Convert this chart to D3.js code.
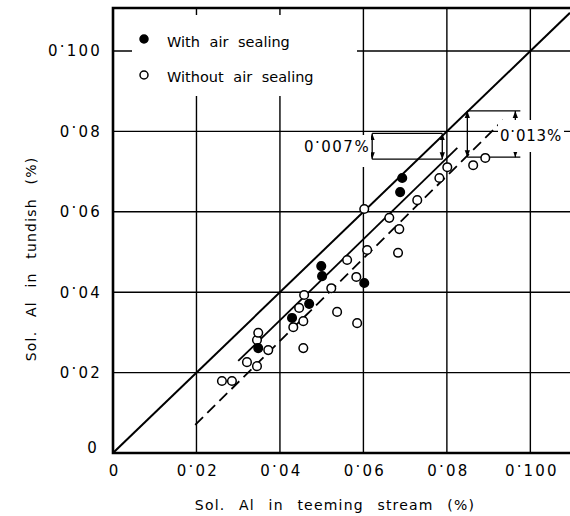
<!DOCTYPE html>
<meta charset="utf-8">
<style>
body { margin: 0; background: #fff; }
svg text { font-family: "DejaVu Sans", sans-serif; fill: #000; }
.tick text { font-size: 15px; letter-spacing: 2.2px; }
.grid line { stroke: #000; stroke-width: 1.4; }
</style>
<script src="https://d3js.org/d3.v7.min.js"></script>
<body>
<div id="chart"></div>
<script>
    // tick values and labels (same on both axes)
    var tickValues = [0, 0.02, 0.04, 0.06, 0.08, 0.1];
    var tickLabels = ["0", "0·02", "0·04", "0·06", "0·08", "0·100"];

    // [sol. Al in teeming stream, sol. Al in tundish]  (%)
    var withAirSealing = [
        [0.0348, 0.0261], [0.0429, 0.0336], [0.0470, 0.0371], [0.0499, 0.0465],
        [0.0501, 0.0440], [0.0602, 0.0423], [0.0688, 0.0649], [0.0693, 0.0684]
    ];
    var withoutAirSealing = [
        [0.0261, 0.0179], [0.0285, 0.0179], [0.0321, 0.0226], [0.0345, 0.0216],
        [0.0345, 0.0281], [0.0348, 0.0299], [0.0372, 0.0256], [0.0432, 0.0313],
        [0.0446, 0.0361], [0.0456, 0.0328], [0.0456, 0.0261], [0.0458, 0.0393],
        [0.0523, 0.0410], [0.0537, 0.0351], [0.0561, 0.0480], [0.0583, 0.0438],
        [0.0585, 0.0323], [0.0602, 0.0607], [0.0609, 0.0505], [0.0662, 0.0585],
        [0.0683, 0.0498], [0.0686, 0.0557], [0.0729, 0.0629], [0.0782, 0.0684],
        [0.0801, 0.0711], [0.0863, 0.0716], [0.0892, 0.0734]
    ];

    // lines
    var equalLine = [[0, 0], [0.1095, 0.1095]];
    var fitWith = [[0.0300, 0.0229], [0.0825, 0.0759]];
    var fitWithout = [[0.0197, 0.0070], [0.0935, 0.0828]];

    // difference brackets: x of the two verticals, top / bottom level, right end of horizontals
    var bracketLabels = ["0·007%", "0·013%"];
    var bracketXs = [[0.0621, 0.0789], [0.0849, 0.0964]];
    var bracketTops = [0.0795, 0.0851];
    var bracketBottoms = [0.0731, 0.0736];
    var bracketEnds = [0.0789, 0.0976];

    var W = 570, H = 516;
    var mLeft = 113, mRight = 570, mTop = 8, mBottom = 453;

    var svg = d3.select("#chart").append("svg")
        .attr("width", W).attr("height", H);

    var x = d3.scaleLinear().domain([0, 0.1095]).range([mLeft, mRight]);
    var y = d3.scaleLinear().domain([0, 0.1107]).range([mBottom, mTop]);

    // arrow head
    svg.append("defs").append("marker")
        .attr("id", "arr")
        .attr("viewBox", "0 -4 8 8")
        .attr("refX", 8).attr("refY", 0)
        .attr("markerWidth", 7).attr("markerHeight", 7)
        .attr("markerUnits", "userSpaceOnUse")
        .attr("orient", "auto-start-reverse")
        .append("path").attr("d", "M0,-3L8,0L0,3Z").attr("fill", "#000");

    svg.append("clipPath").attr("id", "plot")
        .append("rect").attr("x", mLeft).attr("y", mTop)
        .attr("width", mRight - mLeft).attr("height", mBottom - mTop);

    // raised decimal point like the original print
    function dotLabel(sel, s) {
        var parts = s.split("·");
        sel.text(null);
        sel.append("tspan").text(parts[0]);
        if (parts.length > 1) {
            sel.append("tspan").attr("dy", "-0.6em").text(".");
            sel.append("tspan").attr("dy", "0.6em").text(parts[1]);
        }
    }

    // grid
    var grid = svg.append("g").attr("class", "grid");
    grid.selectAll(".v").data(tickValues.slice(1)).enter().append("line")
        .attr("x1", d => x(d)).attr("x2", d => x(d))
        .attr("y1", mTop).attr("y2", mBottom);
    grid.selectAll(".h").data(tickValues.slice(1)).enter().append("line")
        .attr("x1", mLeft).attr("x2", mRight)
        .attr("y1", d => y(d)).attr("y2", d => y(d));

    // frame
    svg.append("path")
        .attr("d", "M" + mRight + "," + mTop + "H" + mLeft + "V" + mBottom + "H" + mRight)
        .attr("fill", "none").attr("stroke", "#000").attr("stroke-width", 2.6);

    // axes (labels only)
    var xAxis = svg.append("g").attr("transform", "translate(0," + mBottom + ")")
        .call(d3.axisBottom(x).tickValues(tickValues).tickSize(0).tickPadding(12)
            .tickFormat((d, i) => tickLabels[i]));
    var yAxis = svg.append("g").attr("transform", "translate(" + mLeft + ",0)")
        .call(d3.axisLeft(y).tickValues(tickValues).tickSize(0).tickPadding(11)
            .tickFormat((d, i) => tickLabels[i]));
    [xAxis, yAxis].forEach(function(g) {
        g.attr("font-size", null).attr("font-family", null);
        g.select(".domain").remove();
        g.selectAll(".tick text").each(function() {
            dotLabel(d3.select(this), this.textContent);
        });
    });
    xAxis.selectAll(".tick text").attr("dx", "1px");
    yAxis.selectAll(".tick text").filter(d => d === 0).attr("dy", "-0.05em").attr("dx", "-3px");

    // axis titles
    svg.append("text")
        .attr("x", 335).attr("y", 510)
        .attr("text-anchor", "middle")
        .style("font-size", "14px").style("letter-spacing", "1.2px").style("word-spacing", "8px")
        .text("Sol. Al in teeming stream (%)");
    svg.append("text")
        .attr("transform", "translate(36,259) rotate(-90)")
        .attr("text-anchor", "middle")
        .style("font-size", "14px").style("letter-spacing", "1.2px").style("word-spacing", "8px")
        .text("Sol. Al in tundish (%)");

    // legend
    svg.append("rect").attr("x", 132).attr("y", 15).attr("width", 225).attr("height", 81)
        .attr("fill", "#fff");
    svg.append("circle").attr("cx", 144).attr("cy", 39).attr("r", 4)
        .attr("fill", "#000").attr("stroke", "#000").attr("stroke-width", 1.5);
    svg.append("circle").attr("cx", 144).attr("cy", 75).attr("r", 4)
        .attr("fill", "#fff").attr("stroke", "#000").attr("stroke-width", 1.5);
    svg.append("text").attr("x", 167).attr("y", 47)
        .style("font-size", "14.5px").style("word-spacing", "5px")
        .text("With air sealing");
    svg.append("text").attr("x", 167).attr("y", 82)
        .style("font-size", "14.5px").style("word-spacing", "5px")
        .text("Without air sealing");

    // lines
    var line = d3.line().x(d => x(d[0])).y(d => y(d[1]));
    var lines = svg.append("g").attr("clip-path", "url(#plot)")
        .attr("fill", "none").attr("stroke", "#000");
    lines.append("path").attr("d", line(equalLine)).attr("stroke-width", 2);
    lines.append("path").attr("d", line(fitWith)).attr("stroke-width", 1.8);
    lines.append("path").attr("d", line(fitWithout)).attr("stroke-width", 1.8)
        .attr("stroke-dasharray", "11,6");

    // brackets
    bracketLabels.forEach(function(lab, i) {
        var g = svg.append("g").attr("stroke", "#000").attr("stroke-width", 1.3);
        var xs = bracketXs[i];
        [bracketTops[i], bracketBottoms[i]].forEach(function(v) {
            g.append("line")
                .attr("x1", x(xs[0])).attr("x2", x(bracketEnds[i]))
                .attr("y1", y(v)).attr("y2", y(v));
        });
        xs.forEach(function(v) {
            g.append("line")
                .attr("x1", x(v)).attr("x2", x(v))
                .attr("y1", y(bracketTops[i])).attr("y2", y(bracketBottoms[i]))
                .attr("marker-start", "url(#arr)").attr("marker-end", "url(#arr)");
        });
    });

    // 0.007 label to the left of the bracket
    svg.append("rect").attr("x", 298).attr("y", 135).attr("width", 73).attr("height", 32)
        .attr("fill", "#fff");
    var t1 = svg.append("text").attr("x", x(bracketXs[0][0]) - 2)
        .attr("y", (y(bracketTops[0]) + y(bracketBottoms[0])) / 2 + 6)
        .attr("text-anchor", "end")
        .style("font-size", "15px").style("letter-spacing", "1.5px");
    dotLabel(t1, bracketLabels[0]);

    // 0.013 label over the right vertical
    svg.append("rect").attr("x", 498).attr("y", 120).attr("width", 66).attr("height", 32)
        .attr("fill", "#fff");
    var t2 = svg.append("text").attr("x", 500)
        .attr("y", (y(bracketTops[1]) + y(bracketBottoms[1])) / 2 + 7)
        .style("font-size", "15px").style("letter-spacing", "0.8px");
    dotLabel(t2, bracketLabels[1]);

    // points
    svg.append("g").selectAll("circle").data(withoutAirSealing).enter().append("circle")
        .attr("cx", d => x(d[0])).attr("cy", d => y(d[1])).attr("r", 4.3)
        .attr("fill", "#fff").attr("stroke", "#000").attr("stroke-width", 1.5);
    svg.append("g").selectAll("circle").data(withAirSealing).enter().append("circle")
        .attr("cx", d => x(d[0])).attr("cy", d => y(d[1])).attr("r", 4.3)
        .attr("fill", "#000").attr("stroke", "#000").attr("stroke-width", 1.5);
</script>
</body>
